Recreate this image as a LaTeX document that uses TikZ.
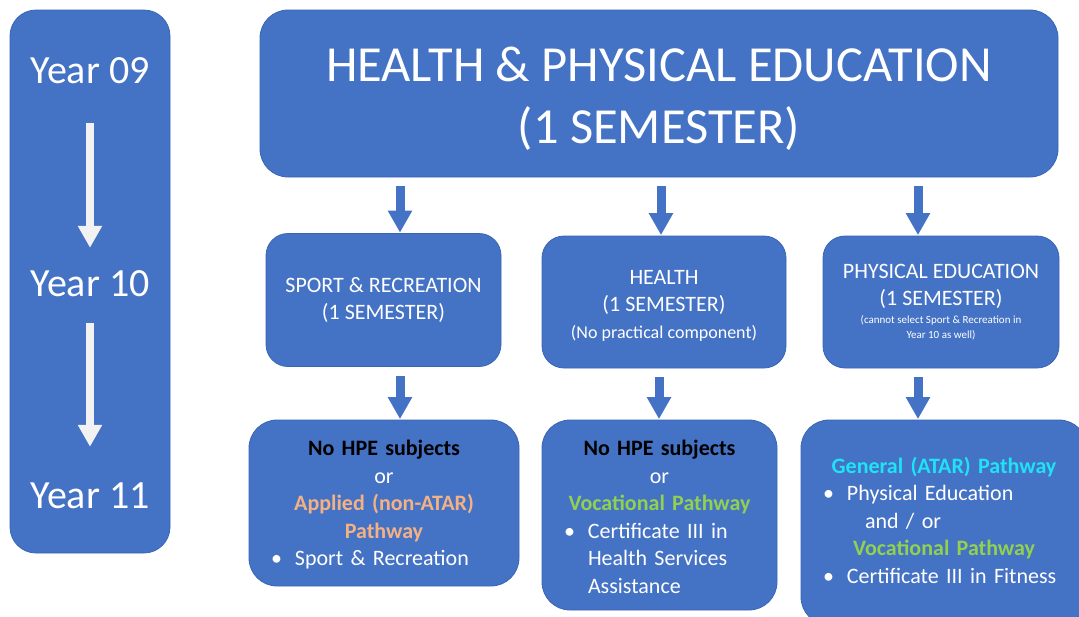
\documentclass[tikz,border=0pt]{standalone}
\usepackage{fontspec}
\setmainfont{Carlito}
\usepackage{tikz}
\usetikzlibrary{arrows.meta}

\definecolor{hpeblue}{HTML}{4472C4}
\definecolor{hpeedge}{HTML}{3A65B4}
\definecolor{hpeorange}{HTML}{F4B183}
\definecolor{hpegreen}{HTML}{92D050}
\definecolor{hpecyan}{HTML}{1FE3F5}
\definecolor{arrowwhite}{HTML}{F2F2F2}

\setlength{\parindent}{0pt}
\newcommand{\ctr}[1]{\par{\centering\noindent #1\par}}
\newcommand{\bul}[1]{\par\raggedright\hangindent=32pt\hangafter=1\noindent\hspace*{8pt}\makebox[24pt][l]{•}#1}

\begin{document}
\begin{tikzpicture}[x=1pt,y=-1pt,
        panel/.style={draw=hpeedge, line width=0.8pt, fill=hpeblue, text=white, rounded corners=26pt},
        midbox/.style={panel, rounded corners=22pt, inner sep=0pt, align=flush center, font=\fontsize{22}{27}\selectfont},
        outbox/.style={panel, rounded corners=28pt, inner xsep=14pt, inner ysep=0pt, font=\fontsize{22}{27.5}\selectfont},
        yearlabel/.style={text=white, inner sep=0pt, text height=26pt, text depth=0pt, font=\fontsize{40}{42}\selectfont},
        hpearrow/.style={draw=hpeblue, line width=9pt, -{Triangle[width=23pt,length=22pt]}, shorten <=9pt, shorten >=0.5pt},
        yeararrow/.style={draw=arrowwhite, line width=8pt, -{Triangle[width=23pt,length=22pt]}}]
        \useasboundingbox (0,0) rectangle (1079,616);

        \node[panel, minimum width=160pt, minimum height=543pt] (years) at (90,281.5) {};
        \node[yearlabel] (y09) at (90,70) {Year 09};
        \node[yearlabel] (y10) at (90,283) {Year 10};
        \node[yearlabel] (y11) at (90,495) {Year 11};

        \node[panel, rounded corners=28pt, minimum width=798pt, minimum height=167pt, text width=780pt, inner sep=0pt, align=flush center, font=\fontsize{50.5}{62}\selectfont] (title) at (659,93.5) {HEALTH \& PHYSICAL EDUCATION\\(1 SEMESTER)\par\vspace{-10pt}};

        \node[midbox, minimum width=235pt, minimum height=133pt, text width=225pt] (sportmid) at (383.5,300) {SPORT \& RECREATION\\(1 SEMESTER)};
        \node[midbox, minimum width=244pt, minimum height=132pt, text width=234pt] (healthmid) at (664,302) {HEALTH\\(1 SEMESTER)\\{\fontsize{18}{27}\selectfont (No practical component)}\par\vspace{-8pt}};
        \node[midbox, minimum width=236pt, minimum height=132pt, text width=226pt] (pemid) at (941,302) {PHYSICAL EDUCATION\\(1 SEMESTER)\par\vspace{3.5pt}{\fontsize{11}{14.5}\selectfont (cannot select Sport \& Recreation in\\Year 10 as well)\par}};

        \node[outbox, minimum width=270pt, minimum height=166pt, text width=242pt] (sportout) at (384,503) {\ctr{\textcolor{black}{\textbf{No HPE subjects}}\\or\\\textcolor{hpeorange}{\textbf{Applied (non-ATAR)}}\\\textcolor{hpeorange}{\textbf{Pathway}}}\bul{Sport \& Recreation}\par\vspace{8pt}};
        \node[outbox, minimum width=235pt, minimum height=190pt, text width=207pt] (healthout) at (659.5,515) {\ctr{\textcolor{black}{\textbf{No HPE subjects}}\\or\\\textcolor{hpegreen}{\textbf{Vocational Pathway}}}\bul{Certificate III in\newline Health Services\newline Assistance}\par\vspace{8pt}};
        \node[outbox, minimum width=286pt, minimum height=205pt, text width=258pt] (peout) at (944,522.5) {\ctr{\textcolor{hpecyan}{\textbf{General (ATAR) Pathway}}}\bul{Physical Education\newline\hspace*{18pt}and / or}\ctr{\textcolor{hpegreen}{\textbf{Vocational Pathway}}}\bul{Certificate III in Fitness}\par\vspace{16pt}};

        \draw[yeararrow, shorten <=40pt, shorten >=22pt] (y09) -- (y10);
        \draw[yeararrow, shorten <=27pt, shorten >=35pt] (y10) -- (y11);

        \draw[hpearrow] ([xshift=16.5pt]sportmid.north |- title.south) -- ([xshift=16.5pt]sportmid.north);
        \draw[hpearrow] ([xshift=-3pt]healthmid.north |- title.south) -- ([xshift=-3pt]healthmid.north);
        \draw[hpearrow] ([xshift=-23pt]pemid.north |- title.south) -- ([xshift=-23pt]pemid.north);
        \draw[hpearrow] ([xshift=16.5pt]sportmid.south) -- ([xshift=16.5pt]sportmid.south |- sportout.north);
        \draw[hpearrow] ([xshift=-5pt]healthmid.south) -- ([xshift=-5pt]healthmid.south |- healthout.north);
        \draw[hpearrow] ([xshift=-23pt]pemid.south) -- ([xshift=-23pt]pemid.south |- peout.north);
    \end{tikzpicture}
\end{document}
